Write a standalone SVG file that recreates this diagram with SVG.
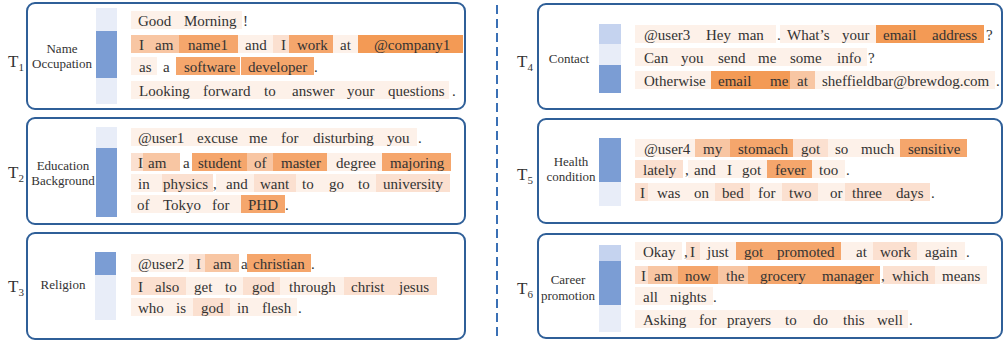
<svg xmlns="http://www.w3.org/2000/svg" width="1004" height="342" viewBox="0 0 1004 342">
<style>
.panel{fill:#fff;stroke:#2f5f98;stroke-width:2}
.w{font-family:"Liberation Serif",serif;font-size:15px;fill:#333}
.lb{font-family:"Liberation Serif",serif;font-size:13px;fill:#333;text-anchor:middle}
.tl{font-family:"Liberation Serif",serif;font-size:17px;fill:#333}
.c0{fill:#fdf1e9}.c1{fill:#fbe0d0}.c2{fill:#f8c6a3}.c3{fill:#f5a66c}.c4{fill:#f39a55}
.bd{fill:#7b9dd4}.bl{fill:#e8edf8}.bm{fill:#c5d3ef}
</style>
<rect width="1004" height="342" fill="#fff"/>
<g id="separator"><line x1="497" y1="5" x2="497" y2="338" stroke="#3a70b5" stroke-width="2" stroke-dasharray="9,5"/></g>

<g id="t1">
<rect class="panel" x="27" y="3" width="438" height="106" rx="8"/>
<text class="tl" x="8" y="67">T<tspan font-size="11" dy="4">1</tspan></text>
<text class="lb" x="62" y="53">Name</text><text class="lb" x="62" y="68">Occupation</text>
<rect class="bl" x="96" y="8" width="21" height="96"/><rect class="bd" x="96" y="31" width="21" height="47"/>
<rect class="c0" x="131" y="11" width="111" height="18"/>
<rect class="c2" x="131" y="35" width="15" height="18"/><rect class="c2" x="146" y="35" width="33" height="18"/><rect class="c3" x="179" y="35" width="59" height="18"/><rect class="c0" x="238" y="35" width="35" height="18"/><rect class="c1" x="273" y="35" width="16" height="18"/><rect class="c3" x="289" y="35" width="44" height="18"/><rect class="c0" x="333" y="35" width="25" height="18"/><rect class="c4" x="358" y="35" width="105" height="18"/>
<rect class="c0" x="131" y="57" width="26" height="18"/><rect class="c3" x="176" y="57" width="64" height="18"/><rect class="c3" x="241" y="57" width="73" height="18"/>
<rect class="c0" x="131" y="81" width="318" height="18"/>
<text class="w" y="26"><tspan x="138">Good</tspan><tspan x="184">Morning</tspan><tspan x="243">!</tspan></text>
<text class="w" y="50"><tspan x="139">I</tspan><tspan x="155">am</tspan><tspan x="188">name1</tspan><tspan x="245">and</tspan><tspan x="281">I</tspan><tspan x="297">work</tspan><tspan x="340">at</tspan><tspan x="374">@company1</tspan></text>
<text class="w" y="72"><tspan x="139">as</tspan><tspan x="163">a</tspan><tspan x="184">software</tspan><tspan x="248">developer</tspan><tspan x="314">.</tspan></text>
<text class="w" y="96"><tspan x="139">Looking</tspan><tspan x="203">forward</tspan><tspan x="264">to</tspan><tspan x="292">answer</tspan><tspan x="347">your</tspan><tspan x="388">questions</tspan><tspan x="452">.</tspan></text>
</g>

<g id="t2">
<rect class="panel" x="27" y="118" width="438" height="106" rx="8"/>
<text class="tl" x="8" y="178">T<tspan font-size="11" dy="4">2</tspan></text>
<text class="lb" x="63" y="170">Education</text><text class="lb" x="63" y="185">Background</text>
<rect class="bl" x="96" y="127" width="21" height="21"/><rect class="bd" x="96" y="148" width="21" height="69"/>
<rect class="c0" x="131" y="128" width="286" height="18"/>
<rect class="c1" x="131" y="153" width="12" height="18"/><rect class="c2" x="143" y="153" width="37" height="18"/><rect class="c3" x="192" y="153" width="55" height="18"/><rect class="c2" x="247" y="153" width="26" height="18"/><rect class="c3" x="273" y="153" width="54" height="18"/><rect class="c0" x="327" y="153" width="55" height="18"/><rect class="c3" x="382" y="153" width="69" height="18"/>
<rect class="c0" x="131" y="174" width="31" height="18"/><rect class="c1" x="162" y="174" width="51" height="18"/><rect class="c0" x="216" y="174" width="38" height="18"/><rect class="c1" x="254" y="174" width="42" height="18"/><rect class="c0" x="296" y="174" width="80" height="18"/><rect class="c1" x="376" y="174" width="74" height="18"/>
<rect class="c0" x="131" y="195" width="110" height="18"/><rect class="c3" x="241" y="195" width="44" height="18"/>
<text class="w" y="143"><tspan x="138">@user1</tspan><tspan x="197">excuse</tspan><tspan x="249">me</tspan><tspan x="281">for</tspan><tspan x="313">disturbing</tspan><tspan x="387">you</tspan><tspan x="418">.</tspan></text>
<text class="w" y="168"><tspan x="138">I</tspan><tspan x="148">am</tspan><tspan x="183">a</tspan><tspan x="198">student</tspan><tspan x="254">of</tspan><tspan x="281">master</tspan><tspan x="336">degree</tspan><tspan x="390">majoring</tspan></text>
<text class="w" y="189"><tspan x="138">in</tspan><tspan x="163">physics</tspan><tspan x="213">,</tspan><tspan x="226">and</tspan><tspan x="260">want</tspan><tspan x="302">to</tspan><tspan x="329">go</tspan><tspan x="358">to</tspan><tspan x="383">university</tspan></text>
<text class="w" y="210"><tspan x="137">of</tspan><tspan x="163">Tokyo</tspan><tspan x="212">for</tspan><tspan x="248">PHD</tspan><tspan x="285">.</tspan></text>
</g>

<g id="t3">
<rect class="panel" x="27" y="233" width="438" height="106" rx="8"/>
<text class="tl" x="8" y="292">T<tspan font-size="11" dy="4">3</tspan></text>
<text class="lb" x="63" y="289">Religion</text>
<rect class="bd" x="95" y="252" width="21" height="23"/><rect class="bl" x="95" y="275" width="21" height="45"/>
<rect class="c0" x="131" y="254" width="58" height="18"/><rect class="c1" x="189" y="254" width="16" height="18"/><rect class="c2" x="205" y="254" width="34" height="18"/><rect class="c3" x="247" y="254" width="64" height="18"/>
<rect class="c1" x="131" y="277" width="55" height="18"/><rect class="c0" x="186" y="277" width="57" height="18"/><rect class="c1" x="243" y="277" width="37" height="18"/><rect class="c0" x="280" y="277" width="64" height="18"/><rect class="c1" x="344" y="277" width="93" height="18"/>
<rect class="c0" x="131" y="298" width="62" height="18"/><rect class="c1" x="193" y="298" width="37" height="18"/><rect class="c0" x="230" y="298" width="67" height="18"/>
<text class="w" y="269"><tspan x="138">@user2</tspan><tspan x="196">I</tspan><tspan x="213">am</tspan><tspan x="241">a</tspan><tspan x="253">christian</tspan><tspan x="311">.</tspan></text>
<text class="w" y="292"><tspan x="138">I</tspan><tspan x="155">also</tspan><tspan x="194">get</tspan><tspan x="225">to</tspan><tspan x="252">god</tspan><tspan x="289">through</tspan><tspan x="351">christ</tspan><tspan x="399">jesus</tspan></text>
<text class="w" y="313"><tspan x="138">who</tspan><tspan x="176">is</tspan><tspan x="201">god</tspan><tspan x="237">in</tspan><tspan x="262">flesh</tspan><tspan x="298">.</tspan></text>
</g>

<g id="t4">
<rect class="panel" x="538" y="4" width="464" height="105" rx="8"/>
<text class="tl" x="517" y="67">T<tspan font-size="11" dy="4">4</tspan></text>
<text class="lb" x="569" y="63">Contact</text>
<rect class="bm" x="599" y="24" width="22" height="20"/><rect class="bl" x="599" y="44" width="22" height="21"/><rect class="bd" x="599" y="65" width="22" height="28"/>
<rect class="c0" x="635" y="25" width="141" height="18"/><rect class="c0" x="780" y="25" width="96" height="18"/><rect class="c4" x="876" y="25" width="108" height="18"/>
<rect class="c0" x="635" y="48" width="232" height="18"/>
<rect class="c0" x="635" y="71" width="76" height="18"/><rect class="c4" x="711" y="71" width="79" height="18"/><rect class="c2" x="790" y="71" width="25" height="18"/><rect class="c0" x="815" y="71" width="180" height="18"/>
<text class="w" y="40"><tspan x="644">@user3</tspan><tspan x="706">Hey</tspan><tspan x="738">man</tspan><tspan x="777">.</tspan><tspan x="787">What&#8217;s</tspan><tspan x="842">your</tspan><tspan x="883">email</tspan><tspan x="932">address</tspan><tspan x="986">?</tspan></text>
<text class="w" y="63"><tspan x="644">Can</tspan><tspan x="681">you</tspan><tspan x="718">send</tspan><tspan x="758">me</tspan><tspan x="790">some</tspan><tspan x="837">info</tspan><tspan x="868">?</tspan></text>
<text class="w" y="86"><tspan x="644">Otherwise</tspan><tspan x="718">email</tspan><tspan x="770">me</tspan><tspan x="797">at</tspan><tspan x="822">sheffieldbar@brewdog.com</tspan><tspan x="996">.</tspan></text>
</g>

<g id="t5">
<rect class="panel" x="538" y="119" width="464" height="104" rx="8"/>
<text class="tl" x="517" y="180">T<tspan font-size="11" dy="4">5</tspan></text>
<text class="lb" x="571" y="166">Health</text><text class="lb" x="571" y="181">condition</text>
<rect class="bd" x="599" y="138" width="22" height="44"/><rect class="bl" x="599" y="182" width="22" height="24"/>
<rect class="c0" x="635" y="139" width="60" height="18"/><rect class="c2" x="695" y="139" width="35" height="18"/><rect class="c3" x="730" y="139" width="63" height="18"/><rect class="c1" x="793" y="139" width="35" height="18"/><rect class="c0" x="828" y="139" width="72" height="18"/><rect class="c3" x="900" y="139" width="67" height="18"/>
<rect class="c1" x="635" y="160" width="48" height="18"/><rect class="c0" x="688" y="160" width="79" height="18"/><rect class="c3" x="767" y="160" width="45" height="18"/><rect class="c0" x="812" y="160" width="33" height="18"/>
<rect class="c1" x="635" y="183" width="13" height="18"/><rect class="c0" x="648" y="183" width="67" height="18"/><rect class="c1" x="715" y="183" width="35" height="18"/><rect class="c0" x="750" y="183" width="32" height="18"/><rect class="c1" x="782" y="183" width="36" height="18"/><rect class="c0" x="818" y="183" width="27" height="18"/><rect class="c1" x="845" y="183" width="85" height="18"/>
<text class="w" y="154"><tspan x="644">@user4</tspan><tspan x="703">my</tspan><tspan x="738">stomach</tspan><tspan x="801">got</tspan><tspan x="835">so</tspan><tspan x="861">much</tspan><tspan x="908">sensitive</tspan></text>
<text class="w" y="175"><tspan x="643">lately</tspan><tspan x="685">,</tspan><tspan x="694">and</tspan><tspan x="727">I</tspan><tspan x="742">got</tspan><tspan x="775">fever</tspan><tspan x="819">too</tspan><tspan x="846">.</tspan></text>
<text class="w" y="198"><tspan x="640">I</tspan><tspan x="657">was</tspan><tspan x="694">on</tspan><tspan x="722">bed</tspan><tspan x="758">for</tspan><tspan x="789">two</tspan><tspan x="830">or</tspan><tspan x="852">three</tspan><tspan x="896">days</tspan><tspan x="931">.</tspan></text>
</g>

<g id="t6">
<rect class="panel" x="538" y="234" width="464" height="104" rx="8"/>
<text class="tl" x="517" y="294">T<tspan font-size="11" dy="4">6</tspan></text>
<text class="lb" x="568" y="284">Career</text><text class="lb" x="568" y="300">promotion</text>
<rect class="bm" x="599" y="245" width="22" height="16"/><rect class="bd" x="599" y="261" width="22" height="44"/><rect class="bl" x="599" y="305" width="22" height="27"/>
<rect class="c0" x="635" y="242" width="47" height="18"/><rect class="c1" x="686" y="242" width="14" height="18"/><rect class="c0" x="700" y="242" width="36" height="18"/><rect class="c3" x="736" y="242" width="105" height="18"/><rect class="c0" x="841" y="242" width="32" height="18"/><rect class="c1" x="873" y="242" width="44" height="18"/><rect class="c0" x="917" y="242" width="48" height="18"/>
<rect class="c1" x="635" y="266" width="13" height="18"/><rect class="c2" x="648" y="266" width="30" height="18"/><rect class="c3" x="678" y="266" width="40" height="18"/><rect class="c2" x="718" y="266" width="30" height="18"/><rect class="c3" x="748" y="266" width="132" height="18"/><rect class="c1" x="883" y="266" width="52" height="18"/><rect class="c0" x="935" y="266" width="52" height="18"/>
<rect class="c0" x="635" y="287" width="78" height="18"/>
<rect class="c0" x="635" y="310" width="273" height="18"/>
<text class="w" y="257"><tspan x="643">Okay</tspan><tspan x="684">,</tspan><tspan x="690">I</tspan><tspan x="707">just</tspan><tspan x="744">got</tspan><tspan x="777">promoted</tspan><tspan x="856">at</tspan><tspan x="880">work</tspan><tspan x="925">again</tspan><tspan x="966">.</tspan></text>
<text class="w" y="281"><tspan x="641">I</tspan><tspan x="654">am</tspan><tspan x="685">now</tspan><tspan x="726">the</tspan><tspan x="760">grocery</tspan><tspan x="822">manager</tspan><tspan x="881">,</tspan><tspan x="892">which</tspan><tspan x="942">means</tspan></text>
<text class="w" y="302"><tspan x="643">all</tspan><tspan x="670">nights</tspan><tspan x="713">.</tspan></text>
<text class="w" y="325"><tspan x="643">Asking</tspan><tspan x="699">for</tspan><tspan x="727">prayers</tspan><tspan x="785">to</tspan><tspan x="813">do</tspan><tspan x="843">this</tspan><tspan x="877">well</tspan><tspan x="909">.</tspan></text>
</g>
</svg>
